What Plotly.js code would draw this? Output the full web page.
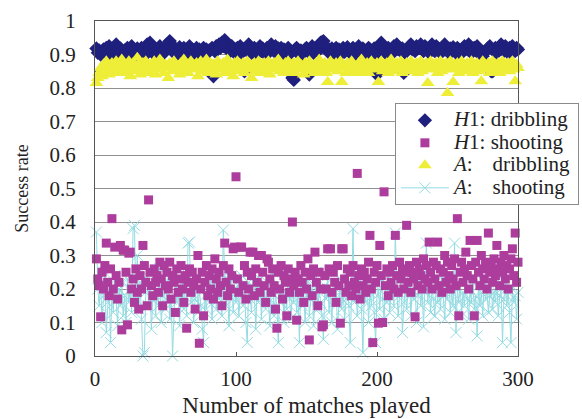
<!DOCTYPE html>
<html>
<head>
<meta charset="utf-8">
<script src="https://cdn.plot.ly/plotly-3.0.1.min.js"></script>
<style>html,body{margin:0;padding:0;background:#fff;}#chart{width:582px;height:419px;}</style>
</head>
<body>
<div id="chart"></div>
<script>
// Match numbers 1..300
var matches = [];
for (var i = 1; i <= 300; i++) matches.push(i);

// H1: dribbling success rate
var h1Dribbling = [
.918,.905,.912,.9,.85,.915,.908,.92,.902,.925,.91,.898,.915,.905,.93,.912,.9,.918,.91,.89,
.912,.905,.92,.898,.91,.925,.915,.9,.908,.918,.895,.91,.92,.905,.915,.9,.93,.912,.935,.918,
.905,.92,.91,.9,.915,.925,.875,.91,.905,.918,.93,.92,.94,.925,.912,.905,.918,.9,.91,.922,
.915,.905,.92,.91,.898,.912,.925,.905,.915,.9,.91,.92,.905,.915,.898,.91,.92,.908,.915,.905,
.912,.85,.92,.835,.91,.925,.915,.93,.92,.935,.925,.943,.93,.915,.92,.91,.925,.918,.905,.915,
.92,.91,.925,.905,.915,.85,.92,.91,.93,.918,.905,.912,.92,.9,.915,.908,.925,.91,.918,.905,
.912,.92,.905,.915,.93,.92,.91,.925,.905,.918,.91,.92,.9,.915,.908,.855,.92,.91,.905,.83,
.824,.915,.92,.91,.9,.912,.87,.905,.915,.92,.91,.84,.918,.925,.905,.912,.92,.91,.928,.935,
.937,.94,.925,.915,.92,.905,.912,.918,.9,.91,.92,.905,.915,.9,.912,.92,.908,.915,.922,.91,
.905,.915,.92,.91,.9,.915,.925,.91,.905,.918,.91,.9,.912,.92,.915,.905,.91,.918,.9,.84,
.915,.925,.935,.92,.91,.905,.915,.92,.912,.9,.915,.925,.92,.93,.915,.92,.91,.918,.845,.905,
.915,.92,.925,.93,.915,.92,.91,.925,.918,.92,.93,.915,.91,.925,.92,.915,.905,.92,.93,.918,
.91,.925,.92,.915,.905,.92,.912,.93,.92,.915,.905,.918,.91,.922,.915,.905,.92,.912,.9,.915,
.91,.925,.92,.915,.93,.91,.905,.918,.92,.915,.925,.912,.9,.91,.895,.905,.87,.915,.92,.925,
.85,.85,.91,.92,.905,.915,.925,.93,.92,.91,.925,.915,.905,.92,.912,.925,.915,.91,.92,.915
];

// H1: shooting success rate
var h1Shooting = [
.29,.23,.21,.117,.25,.2,.27,.337,.22,.18,.26,.41,.2,.325,.24,.17,.22,.33,.078,.316,
.316,.25,.093,.307,.31,.2,.23,.16,.26,.19,.14,.24,.2,.33,.27,.22,.15,.466,.25,.21,
.18,.26,.22,.24,.19,.28,.23,.15,.27,.21,.25,.2,.28,.17,.24,.22,.13,.26,.19,.23,
.27,.2,.16,.24,.083,.22,.26,.19,.25,.21,.14,.23,.30,.038,.2,.25,.12,.22,.27,.18,
.24,.2,.26,.17,.29,.23,.19,.25,.21,.15,.27,.337,.22,.18,.26,.2,.24,.32,.325,.535,
.23,.19,.325,.325,.21,.27,.17,.25,.2,.31,.24,.31,.18,.26,.22,.30,.19,.30,.25,.21,
.16,.29,.28,.23,.19,.26,.21,.14,.083,.25,.2,.27,.17,.24,.22,.12,.26,.19,.23,.40,
.21,.25,.107,.23,.19,.27,.22,.16,.25,.2,.29,.048,.24,.18,.26,.31,.22,.15,.25,.2,
.087,.093,.24,.2,.32,.26,.32,.19,.25,.22,.16,.27,.21,.098,.32,.32,.23,.19,.26,.21,
.25,.18,.27,.22,.2,.545,.24,.17,.26,.21,.25,.19,.23,.28,.36,.2,.04,.25,.22,.27,
.098,.33,.24,.1,.49,.21,.26,.18,.25,.22,.27,.2,.36,.24,.19,.28,.23,.26,.2,.25,
.39,.22,.27,.19,.25,.23,.117,.28,.21,.26,.24,.2,.29,.23,.27,.22,.34,.25,.2,.28,
.23,.27,.34,.21,.26,.19,.25,.3,.22,.28,.24,.2,.27,.23,.29,.21,.41,.12,.25,.28,
.22,.26,.31,.24,.2,.345,.27,.23,.12,.28,.345,.25,.21,.3,.26,.23,.28,.2,.367,.25,
.27,.22,.29,.24,.33,.26,.21,.28,.25,.3,.23,.27,.2,.26,.29,.32,.24,.367,.22,.28
];

// A: dribbling success rate
var aDribbling = [
.815,.83,.845,.86,.835,.87,.85,.88,.865,.84,.855,.875,.86,.845,.88,.87,.85,.865,.885,.855,
.87,.845,.86,.88,.835,.865,.875,.85,.86,.89,.87,.84,.855,.875,.865,.88,.845,.86,.87,.85,
.865,.88,.84,.87,.855,.885,.86,.875,.845,.87,.86,.83,.875,.865,.85,.88,.87,.855,.865,.84,
.875,.86,.885,.85,.87,.845,.865,.88,.855,.87,.86,.875,.835,.865,.88,.85,.87,.86,.885,.845,
.86,.875,.85,.87,.865,.84,.88,.855,.87,.86,.875,.845,.865,.885,.85,.87,.86,.835,.875,.865,
.88,.85,.87,.86,.875,.845,.865,.88,.855,.87,.83,.86,.875,.85,.865,.88,.845,.87,.86,.875,
.85,.865,.88,.84,.87,.86,.875,.855,.865,.885,.85,.87,.86,.845,.875,.865,.88,.85,.87,.86,
.875,.845,.865,.88,.855,.87,.86,.84,.875,.865,.85,.88,.87,.855,.865,.845,.875,.86,.885,.85,
.87,.86,.875,.845,.818,.865,.88,.855,.87,.86,.875,.85,.865,.88,.818,.87,.86,.845,.875,.865,
.85,.88,.87,.855,.865,.845,.875,.86,.885,.85,.87,.86,.875,.845,.865,.88,.855,.87,.86,.875,
.818,.865,.88,.85,.87,.86,.875,.845,.865,.885,.85,.87,.86,.875,.855,.865,.88,.845,.87,.86,
.875,.85,.865,.88,.855,.87,.86,.875,.845,.865,.88,.85,.87,.86,.875,.815,.865,.88,.855,.87,
.86,.875,.845,.865,.88,.85,.87,.86,.875,.785,.865,.88,.855,.818,.87,.86,.875,.845,.865,.88,
.85,.87,.86,.875,.855,.865,.88,.845,.87,.86,.875,.85,.865,.82,.88,.855,.87,.86,.875,.845,
.865,.88,.85,.87,.86,.875,.845,.865,.88,.855,.87,.86,.875,.85,.865,.88,.855,.82,.87,.86
];

// A: shooting success rate
var aShooting = [
.37,.2,.15,.22,.1,.18,.25,.07,.16,.21,.04,.19,.13,.24,.17,.09,.2,.15,.22,.12,
.18,.1,.23,.16,.2,.13,.38,.39,.17,.3,.14,.22,.11,.0,.01,.19,.24,.15,.21,.08,
.17,.23,.12,.2,.15,.26,.1,.18,.22,.14,.19,.25,.11,.17,.0,.13,.24,.16,.2,.09,
.18,.22,.14,.25,.12,.337,.34,.16,.21,.1,.17,.24,.13,.2,.15,.08,.04,.18,.14,.21,
.16,.23,.11,.19,.25,.14,.2,.17,.22,.12,.376,.24,.15,.21,.09,.19,.23,.13,.2,.16,
.21,.12,.18,.24,.15,.2,.1,.04,.22,.17,.13,.25,.19,.08,.21,.16,.23,.11,.18,.2,
.14,.22,.17,.09,.2,.25,.12,.18,.15,.04,.21,.16,.23,.1,.19,.14,.24,.17,.11,.2,
.16,.22,.13,.19,.04,.24,.15,.2,.1,.18,.23,.12,.17,.21,.09,.19,.25,.14,.2,.16,
.12,.05,.21,.17,.24,.13,.19,.1,.22,.16,.2,.08,.18,.23,.14,.2,.11,.17,.22,.15,
.04,.19,.38,.16,.21,.12,.18,.24,.14,.01,.2,.16,.23,.1,.19,.15,.22,.13,.04,.18,
.2,.14,.23,.17,.11,.21,.16,.24,.13,.19,.22,.15,.367,.2,.12,.18,.23,.07,.16,.21,
.14,.19,.24,.12,.2,.17,.22,.1,.18,.23,.15,.2,.087,.19,.337,.16,.21,.13,.2,.17,
.12,.22,.16,.2,.14,.24,.18,.11,.21,.17,.23,.13,.19,.15,.337,.07,.2,.16,.22,.12,
.19,.15,.23,.17,.11,.2,.16,.24,.14,.18,.06,.21,.15,.19,.12,.22,.17,.2,.13,.18,
.21,.14,.19,.16,.23,.12,.18,.2,.04,.17,.22,.15,.19,.13,.04,.2,.16,.18,.11,.19
];

function big(s) { return '<span style="font-size:21px">' + s + '</span>'; }
var seriesNames = [
  big('<i>H</i>1: dribbling'),
  big('<i>H</i>1: shooting'),
  big('<i>A</i>:\u00a0\u00a0\u00a0\u2009dribbling'),
  big('<i>A</i>:\u00a0\u00a0\u00a0\u2009shooting')
];
var yTickVals = [0,0.1,0.2,0.3,0.4,0.5,0.6,0.7,0.8,0.9,1];
var yTickText = ['0','0.1','0.2','0.3','0.4','0.5','0.6','0.7','0.8','0.9','1'];
var xTickVals = [0,100,200,300];
var xTickText = ['0','100','200','300'];

var serif = 'Liberation Serif';
var cyan = '#93dbe2';

var traces = [
  {x: matches, y: h1Dribbling, name: seriesNames[0], legendrank: 1, type: 'scatter', mode: 'markers', cliponaxis: false,
   marker: {symbol: 'diamond', size: 11, color: '#1f1f7d'}},
  {x: matches, y: aShooting, name: seriesNames[3], legendrank: 4, type: 'scatter', mode: 'lines+markers', cliponaxis: false,
   line: {color: cyan, width: 1},
   marker: {symbol: 'x-thin', size: 11, color: cyan, line: {color: cyan, width: 1}}},
  {x: matches, y: h1Shooting, name: seriesNames[1], legendrank: 2, type: 'scatter', mode: 'markers', cliponaxis: false,
   marker: {symbol: 'square', size: 9, color: '#ad3d9d'}},
  {x: matches, y: aDribbling, name: seriesNames[2], legendrank: 3, type: 'scatter', mode: 'markers', cliponaxis: false,
   marker: {symbol: 'triangle-up', size: 12, color: '#eeee38'}}
];

var layout = {
  width: 582, height: 419,
  margin: {l: 95, r: 64, t: 21, b: 63, autoexpand: false},
  paper_bgcolor: '#ffffff', plot_bgcolor: '#ffffff',
  font: {family: serif, size: 21, color: '#222'},
  showlegend: true,
  legend: {x: 0.709, y: 0.755, xanchor: 'left', yanchor: 'top', traceorder: 'normal',
    bgcolor: '#ffffff', bordercolor: '#8a8a8a', borderwidth: 1,
    font: {family: serif, size: 15, color: '#222'}, itemwidth: 48, tracegroupgap: 0},
  xaxis: {range: [0, 300], tickvals: xTickVals, ticktext: xTickText, automargin: false,
    showgrid: false, zeroline: false, showline: true, linecolor: '#555', linewidth: 1, mirror: true,
    ticks: 'inside', ticklen: 4, tickcolor: '#555', ticklabelstandoff: 4,
    tickfont: {family: serif, size: 21, color: '#222'},
    title: {text: 'Number of matches played', font: {family: serif, size: 23, color: '#222'}, standoff: 6}},
  yaxis: {range: [0, 1], tickvals: yTickVals, ticktext: yTickText, automargin: false,
    showgrid: true, gridcolor: '#909090', gridwidth: 1, zeroline: false,
    showline: true, linecolor: '#555', linewidth: 1, mirror: true,
    ticks: '', ticklabelstandoff: 14,
    tickfont: {family: serif, size: 21, color: '#222'},
    title: {text: 'Success rate', font: {family: serif, size: 18, color: '#222'}, standoff: 16}}
};

Plotly.newPlot('chart', traces, layout, {staticPlot: true, displayModeBar: false});
</script>
</body>
</html>
